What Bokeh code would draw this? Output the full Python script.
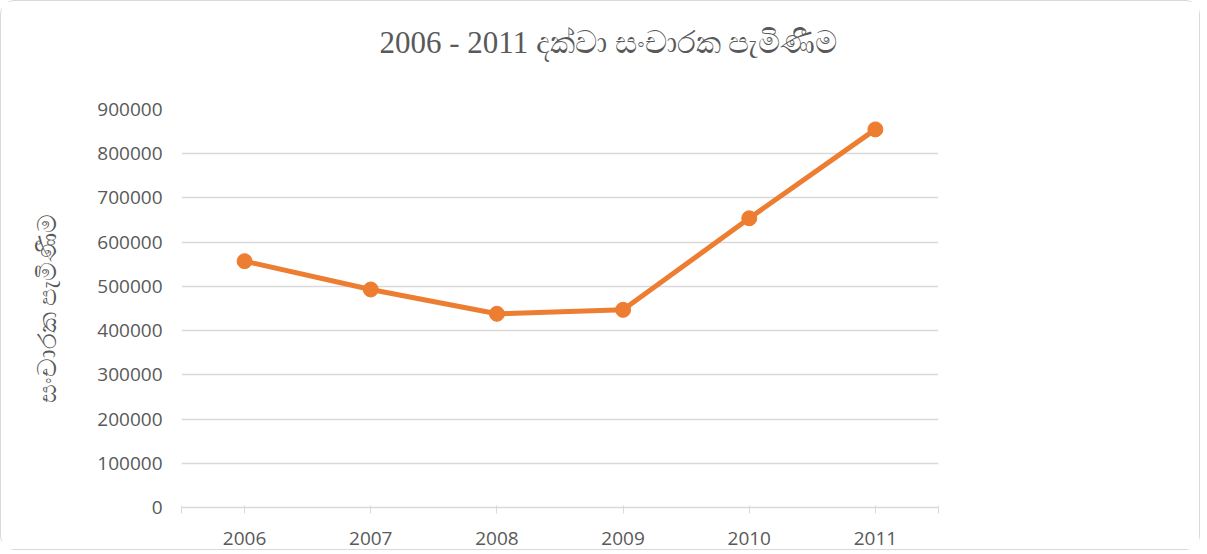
from bokeh.plotting import figure
from bokeh.models import FixedTicker, Title, ColumnDataSource
from bokeh.embed import file_html
from bokeh.resources import INLINE

years = [2006, 2007, 2008, 2009, 2010, 2011]
arrivals = [557000, 493000, 438000, 447000, 654000, 855000]
y_ticks = [0, 100000, 200000, 300000, 400000, 500000, 600000, 700000, 800000, 900000]
title_text = "2006 - 2011 දක්වා සංචාරක පැමිණීම"
y_label = "සංචාරක පැමිණීම"

src = ColumnDataSource(dict(x=years, y=arrivals))

p = figure(width=1200, height=550, output_backend="svg", toolbar_location=None,
           x_range=(2005.5, 2011.5), y_range=(0, 900000),
           min_border_left=180, min_border_right=263, min_border_top=10, min_border_bottom=44)
p.styles = {"border": "1.5px solid #d9d9d9", "border-radius": "14px", "box-sizing": "border-box"}
p.outline_line_color = None
p.background_fill_color = "white"
p.border_fill_color = "white"

p.xgrid.grid_line_color = None
p.ygrid.grid_line_color = "#d9d9d9"
p.ygrid.grid_line_width = 1.5

p.yaxis.ticker = FixedTicker(ticks=y_ticks)
p.yaxis.formatter.use_scientific = False
p.yaxis.axis_line_color = None
p.yaxis.major_tick_line_color = None
p.yaxis.minor_tick_line_color = None
p.yaxis.major_label_text_font = "Open Sans"
p.yaxis.major_label_text_font_size = "19px"
p.yaxis.major_label_text_color = "#595959"
p.yaxis.major_label_standoff = 13
p.yaxis.axis_label = y_label
p.yaxis.axis_label_text_font = "Liberation Serif"
p.yaxis.axis_label_text_font_style = "normal"
p.yaxis.axis_label_text_font_size = "26px"
p.yaxis.axis_label_text_color = "#595959"
p.yaxis.axis_label_standoff = 32

p.xaxis.ticker = FixedTicker(ticks=[2005.5] + years + [2011.5])
p.xaxis.major_label_overrides = {2005.5: "", 2011.5: ""}
p.xaxis.axis_line_color = "#d9d9d9"
p.xaxis.axis_line_width = 1.5
p.xaxis.major_tick_line_color = "#d9d9d9"
p.xaxis.major_tick_in = 2
p.xaxis.major_tick_out = 6
p.xaxis.minor_tick_line_color = None
p.xaxis.major_label_text_font = "Open Sans"
p.xaxis.major_label_text_font_size = "19px"
p.xaxis.major_label_text_color = "#595959"
p.xaxis.major_label_standoff = 18

p.line("x", "y", source=src, line_color="#ed7d31", line_width=5)
p.scatter("x", "y", source=src, size=15, fill_color="#ed7d31", line_color="#ed7d31")

spacer = Title(text=" ", text_font_size="24px", standoff=0)
p.add_layout(spacer, "above")
title = Title(text=title_text, align="left", offset=198, standoff=42,
              text_font="Liberation Serif", text_font_size="31px",
              text_font_style="normal", text_color="#595959")
p.add_layout(title, "above")

open("out.html", "w").write(file_html(p, INLINE))
